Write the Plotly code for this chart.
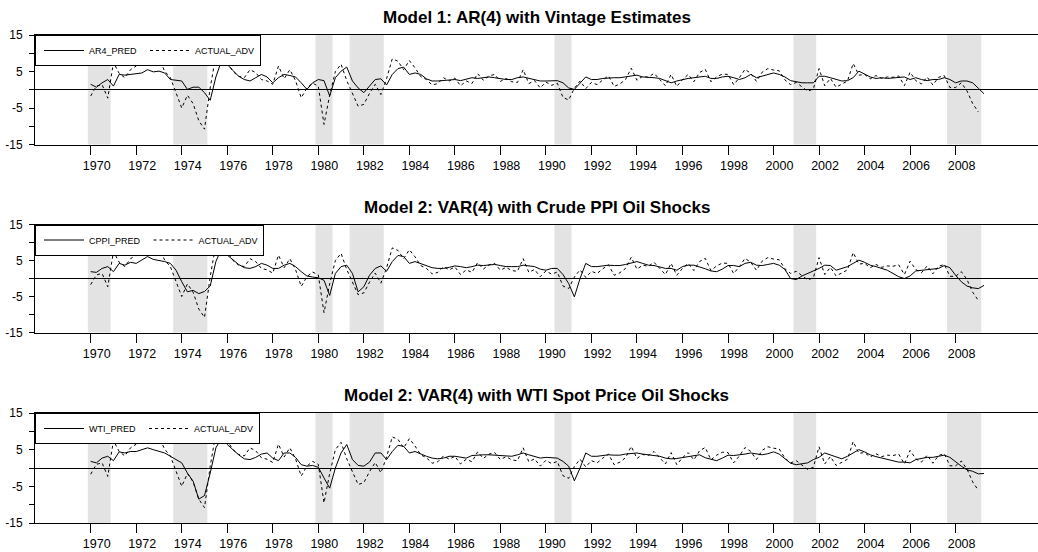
import numpy as np
import plotly.graph_objects as go

# ---------------- data (quarterly, annualized %) ----------------
start_year = 1970  # first observation 1970Q1

# ACTUAL_ADV: 1970Q1 .. 2009Q1
actual_adv = [
    -1.7, 1.0, 1.4, -2.3,    7.5, 4.5, 3.3, 5.5,    6.5, 8.5, 6.9, 8.0,
    8.5, 5.1, 3.3, -0.8,     -5.0, -1.5, -3.8, -8.5, -10.8, 0.5, 9.5, 8.5,
    7.5, 5.0, 3.7, 3.3,      5.5, 4.7, 2.8, 2.4,    1.5, 6.5, 3.0, 5.5,
    2.5, -2.2, 0.5, 1.8,     1.0, -9.5, -1.5, 5.0,  7.0, 2.5, -0.8, -4.5,
    -4.0, -1.0, 1.5, -1.3,   3.0, 8.5, 7.8, 5.5,    8.0, 6.0, 3.6, 2.8,
    1.3, 1.7, 3.3, 2.4,      3.2, 1.1, 2.4, 1.7,    4.4, 2.6, 3.8, 4.2,
    2.3, 3.1, 2.2, 2.0,      5.5, 1.7, 2.5, 0.5,    2.1, 1.2, 1.8, -2.1,
    -2.8, 0.4, 2.4, 0.3,     2.0, 1.4, 2.7, 3.8,    0.9, 1.6, 2.8, 5.9,
    2.6, 3.7, 3.4, 4.5,      2.8, 1.1, 4.2, 0.9,    2.8, 4.2, 2.2, 4.7,
    5.6, 2.2, 3.5, 4.3,      4.2, 1.4, 3.3, 5.6,    4.5, 2.3, 4.8, 5.8,
    5.4, 5.2, 2.7, 1.4,      2.0, 0.7, -0.4, 0.2,   5.8, 1.1, 3.1, 0.7,
    1.6, 2.4, 7.2, 4.0,      4.2, 3.0, 3.9, 3.1,    3.5, 3.4, 3.8, 1.1,
    4.8, 2.5, 1.6, 3.5,      1.3, 3.4, 3.9, 0.6,    0.6, 1.9, -0.3, -3.8,
    -6.1,
]

# Predictions: 1970Q1 .. 2009Q2
ar4_pred = [
    1.5, 0.7, 1.9, 2.8,      1.0, 4.2, 4.0, 4.2,    4.2, 4.6, 5.5, 4.9,
    5.1, 4.6, 2.8, 2.5,      2.4, 0.1, 0.7, 0.7,    -0.8, -2.9, 3.5, 8.0,
    6.9, 5.3, 3.7, 2.8,      2.4, 3.3, 4.2, 3.5,    1.9, 3.3, 4.2, 3.9,
    3.5, 1.9, 0.1, 1.9,      2.8, 2.5, -1.7, 3.3,   5.1, 6.2, 2.4, 0.5,
    -0.8, 1.0, 2.8, 3.0,     1.3, 4.2, 5.8, 6.2,    4.2, 4.6, 4.2, 3.0,
    2.4, 2.4, 2.5, 2.8,      2.8, 2.5, 2.8, 3.3,    3.1, 3.3, 3.5, 3.3,
    3.0, 2.8, 2.8, 3.3,      3.5, 3.1, 2.8, 2.4,    2.4, 2.4, 2.5, 1.9,
    0.5, 0.1, 1.9, 3.5,      2.8, 2.8, 3.1, 3.3,    3.3, 3.3, 3.5, 3.6,
    4.0, 3.5, 3.5, 3.3,      3.1, 2.5, 1.9, 2.4,    2.8, 3.1, 3.3, 3.5,
    3.7, 3.1, 3.1, 3.5,      3.7, 3.3, 2.8, 3.3,    4.2, 3.3, 3.7, 4.2,
    4.6, 4.2, 3.5, 2.5,      2.1, 1.9, 1.9, 1.9,    3.7, 3.7, 3.3, 2.8,
    2.4, 2.5, 3.3, 5.1,      4.2, 3.5, 3.1, 3.3,    3.1, 3.3, 3.3, 3.5,
    2.8, 3.3, 2.8, 2.5,      2.8, 2.8, 3.3, 2.8,    1.9, 2.4, 2.4, 1.9,
    0.4, -1.1,
]

cppi_pred = [
    1.9, 1.7, 2.8, 3.3,      1.9, 4.2, 3.7, 4.5,    4.2, 5.1, 6.1, 5.3,
    5.1, 4.7, 4.2, 2.3,      -0.9, -3.7, -3.3, -4.2, -3.6, -2.1, 4.7, 8.4,
    6.5, 5.1, 3.9, 3.0,      2.8, 3.3, 4.2, 3.7,    2.8, 2.8, 3.7, 4.2,
    3.3, 1.9, 0.7, 0.4,      0.2, -0.5, -4.7, 1.4,  3.3, 3.7, 1.4, -3.7,
    -2.3, 0.9, 2.8, 3.5,     2.0, 4.7, 6.4, 6.1,    4.2, 4.7, 4.2, 3.7,
    3.0, 2.8, 2.8, 3.1,      3.5, 3.3, 3.0, 3.3,    3.7, 3.6, 3.7, 3.9,
    3.6, 3.3, 3.3, 3.3,      3.7, 3.6, 3.3, 2.6,    2.3, 2.8, 2.8, 1.1,
    -1.4, -5.1, 0.0, 4.2,    3.3, 3.3, 3.6, 3.7,    3.6, 3.6, 3.9, 4.2,
    4.7, 4.2, 3.7, 3.6,      3.3, 2.8, 2.8, 2.3,    3.3, 3.7, 3.7, 3.3,
    2.7, 2.1, 1.9, 2.6,      3.6, 3.6, 3.3, 4.2,    4.5, 3.7, 3.6, 3.9,
    4.2, 3.7, 2.5, 0.0,      -0.3, 0.7, 1.4, 1.9,   2.8, 3.7, 3.6, 2.3,
    2.8, 3.3, 4.2, 5.1,      4.5, 3.7, 3.3, 2.8,    2.3, 1.4, 0.5, 0.0,
    0.7, 2.1, 2.3, 2.3,      2.6, 2.8, 3.6, 3.0,    0.9, -0.9, -2.1, -2.6,
    -2.8, -1.9,
]

wti_pred = [
    1.8, 1.4, 2.7, 3.2,      2.0, 4.4, 4.1, 4.5,    4.5, 5.0, 5.5, 5.0,
    4.5, 4.1, 3.2, 2.3,      1.4, -1.4, -3.6, -8.5, -7.5, -1.4, 5.5, 8.2,
    6.4, 5.0, 3.6, 2.5,      2.3, 2.9, 3.8, 4.1,    2.7, 2.0, 4.1, 4.1,
    2.9, 0.9, 0.5, 0.7,      0.2, -2.7, -5.5, 0.0,  4.1, 6.4, 2.3, 0.7,
    0.5, 1.6, 4.1, 4.1,      2.3, 4.5, 6.2, 5.9,    4.1, 4.5, 3.8, 3.2,
    2.7, 2.5, 2.7, 3.2,      3.2, 2.9, 2.7, 3.4,    3.6, 3.6, 3.6, 3.5,
    3.2, 3.2, 3.2, 3.6,      4.1, 3.6, 3.2, 2.7,    2.9, 2.9, 2.7, 1.8,
    0.5, -3.5, 0.0, 4.1,     3.2, 3.2, 3.5, 3.6,    3.5, 3.5, 3.8, 3.9,
    4.1, 3.8, 3.6, 3.5,      3.2, 2.7, 2.5, 2.6,    2.9, 3.2, 3.5, 3.6,
    2.8, 2.5, 2.0, 2.7,      3.5, 3.4, 3.5, 3.8,    4.1, 3.8, 3.6, 3.9,
    4.4, 3.8, 2.5, 1.3,      0.9, 1.1, 1.4, 2.3,    2.9, 4.1, 3.5, 2.9,
    2.5, 3.2, 4.1, 5.0,      4.4, 3.6, 3.1, 2.7,    2.5, 2.0, 1.6, 1.6,
    1.4, 2.3, 2.7, 2.9,      2.9, 3.1, 3.5, 2.9,    1.6, 0.5, -0.5, -0.9,
    -1.6, -1.5,
]

# NBER recession quarters (shaded)
recession_start = ["1970Q1", "1973Q4", "1980Q1", "1981Q3", "1990Q3", "2001Q1", "2007Q4"]
recession_end = ["1970Q4", "1975Q1", "1980Q3", "1982Q4", "1991Q1", "2001Q4", "2009Q1"]

tick_years = list(range(1970, 2009, 2))

panel_titles = [
    "Model 1: AR(4) with Vintage Estimates",
    "Model 2: VAR(4) with Crude PPI Oil Shocks",
    "Model 2: VAR(4) with WTI Spot Price Oil Shocks",
]
pred_names = ["AR4_PRED", "CPPI_PRED", "WTI_PRED"]
pred_series = [ar4_pred, cppi_pred, wti_pred]


def qtime(q):
    y, qq = q.split("Q")
    return int(y) + (int(qq) - 1) / 4.0


t_act = start_year + np.arange(len(actual_adv)) / 4.0
t_pred = start_year + np.arange(len(ar4_pred)) / 4.0

# ---------------- layout geometry ----------------
W, H = 1038, 552
panel_px = [(35, 144.5), (224.5, 332.5), (413, 523)]  # top, bottom in pixels
title_px = [17, 207, 395]

FONT = "Liberation Sans, Arial, sans-serif"

fig = go.Figure()
layout = dict(
    width=W, height=H,
    margin=dict(l=35, r=0, t=0, b=0, pad=0, autoexpand=False),
    paper_bgcolor="white", plot_bgcolor="white",
    showlegend=True,
)

shapes = []
annotations = []
x_range = [1967.553, 2011.62]

for k in range(3):
    n = k + 1
    xa = "x" if n == 1 else f"x{n}"
    ya = "y" if n == 1 else f"y{n}"
    lg = "legend" if n == 1 else f"legend{n}"
    top, bot = panel_px[k]
    dom = [1 - bot / H, 1 - top / H]

    fig.add_trace(go.Scatter(
        x=t_pred, y=pred_series[k], mode="lines", name=pred_names[k],
        line=dict(color="black", width=1), xaxis=xa, yaxis=ya, legend=lg,
    ))
    fig.add_trace(go.Scatter(
        x=t_act, y=actual_adv, mode="lines", name="ACTUAL_ADV",
        line=dict(color="black", width=1, dash="3px,3px"), xaxis=xa, yaxis=ya, legend=lg,
    ))

    layout["xaxis" if n == 1 else f"xaxis{n}"] = dict(
        domain=[0, 1], anchor=ya, range=x_range, type="linear", automargin=False,
        tickmode="array", tickvals=tick_years, ticktext=[str(v) for v in tick_years],
        ticks="outside", ticklen=9, tickwidth=1, tickcolor="black",
        showgrid=False, zeroline=False, showline=True, linecolor="black", linewidth=1,
        mirror=True, ticklabelshift=6,
        tickfont=dict(family=FONT, size=12.5, color="black"),
    )
    layout["yaxis" if n == 1 else f"yaxis{n}"] = dict(
        domain=dom, anchor=xa, range=[-15, 15], automargin=False,
        tickmode="array", tickvals=[-15, -10, -5, 0, 5, 10, 15],
        ticktext=["-15", "", "-5", "", "5", "", "15"],
        ticks="outside", ticklen=5, tickwidth=1, tickcolor="black",
        showgrid=False, showline=True, linecolor="black", linewidth=1, mirror=False,
        zeroline=True, zerolinecolor="black", zerolinewidth=1, ticklabelstandoff=4,
        tickfont=dict(family=FONT, size=12, color="black"),
    )
    layout[lg] = dict(
        x=0, y=dom[1], xref="paper", yref="paper", xanchor="left", yanchor="top",
        orientation="h", bgcolor="white", bordercolor="black", borderwidth=1,
        font=dict(family=FONT, size=9, color="black"), itemwidth=40, indentation=3,
    )

    for s, e in zip(recession_start, recession_end):
        shapes.append(dict(
            type="rect", xref=xa, yref=f"{ya} domain",
            x0=qtime(s) - 0.125, x1=qtime(e) + 0.125, y0=0, y1=1,
            fillcolor="#e3e3e3", line=dict(width=0), layer="below",
        ))

    annotations.append(dict(
        text=f"<b>{panel_titles[k]}</b>", xref="paper", yref="paper",
        x=0.5, y=1 - title_px[k] / H, xanchor="center", yanchor="middle",
        showarrow=False, font=dict(family=FONT, size=17, color="black"),
    ))

layout["shapes"] = shapes
layout["annotations"] = annotations
fig.update_layout(**layout)

fig.write_html(
    "out.html",
    config={"displayModeBar": False},
    post_script="document.body.style.margin='0';",
)
